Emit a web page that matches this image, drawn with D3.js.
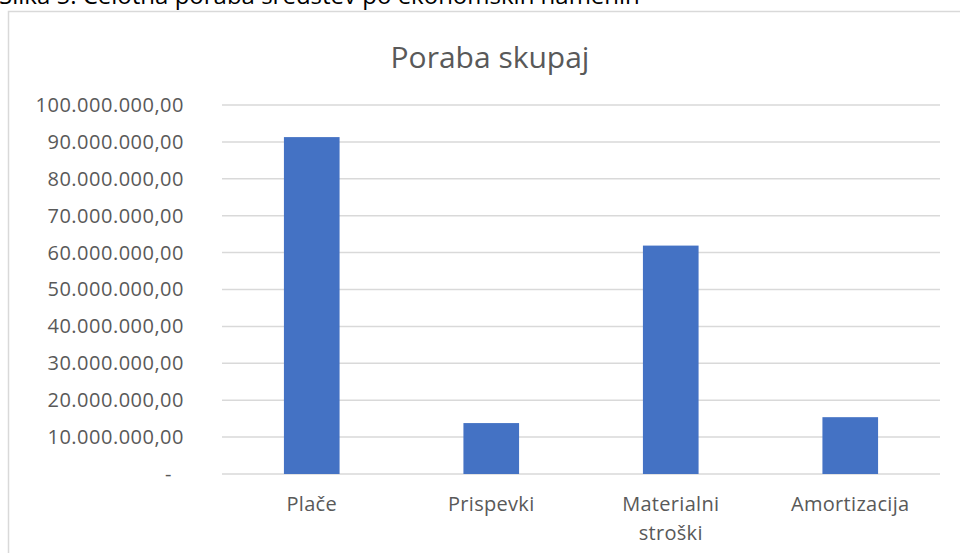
<!DOCTYPE html>
<html>
<head>
<meta charset="utf-8">
<script src="https://cdn.jsdelivr.net/npm/d3@7"></script>
<style>
  body { margin: 0; background: #fff; }
  svg { display: block; font-family: "Open Sans", "Noto Sans", sans-serif; }
</style>
</head>
<body>
<svg id="chart"></svg>
<script>
const categories = ["Plače", "Prispevki", "Materialni stroški", "Amortizacija"];
const values = [91300000, 13800000, 61900000, 15400000];
const yTicks = [0, 10000000, 20000000, 30000000, 40000000, 50000000, 60000000, 70000000, 80000000, 90000000, 100000000];

const width = 960, height = 553;
const margin = { top: 105, right: 20, bottom: 79, left: 222 };

const svg = d3.select("#chart")
  .attr("width", width)
  .attr("height", height);

// caption above the chart box, cut off at the top
svg.append("text")
  .attr("x", -1)
  .attr("y", 4)
  .attr("font-size", 24)
  .attr("fill", "#000")
  .text("Slika 5: Celotna poraba sredstev po ekonomskih namenih");

// chart box
svg.append("rect")
  .attr("x", 8.5)
  .attr("y", 11.5)
  .attr("width", 980)
  .attr("height", 600)
  .attr("fill", "#fff")
  .attr("stroke", "#d9d9d9")
  .attr("stroke-width", 1.5);

svg.append("text")
  .attr("x", 490)
  .attr("y", 68)
  .attr("text-anchor", "middle")
  .attr("font-size", 30)
  .attr("fill", "#595959")
  .text("Poraba skupaj");

const x = d3.scaleBand()
  .domain(categories)
  .range([margin.left, width - margin.right])
  .paddingInner(0.69)
  .paddingOuter(0.345);

const y = d3.scaleLinear()
  .domain([0, 100000000])
  .range([height - margin.bottom, margin.top]);

const fmt = v => v === 0 ? "-" :
  d3.format(",.2f")(v).replace(/,/g, "#").replace(/\./g, ",").replace(/#/g, ".");

// gridlines
svg.append("g")
  .selectAll("line")
  .data(yTicks)
  .join("line")
  .attr("x1", margin.left)
  .attr("x2", width - margin.right)
  .attr("y1", d => y(d))
  .attr("y2", d => y(d))
  .attr("stroke", "#d9d9d9")
  .attr("stroke-width", 1.5);

// y axis labels
const yAxis = svg.append("g")
  .attr("transform", `translate(${margin.left - 38},0)`)
  .call(d3.axisLeft(y).tickValues(yTicks).tickFormat(fmt).tickSize(0).tickPadding(0));
yAxis.select(".domain").remove();
yAxis.selectAll("text")
  .attr("font-size", 20)
  .attr("letter-spacing", 0.5)
  .attr("font-family", "Open Sans, sans-serif")
  .attr("fill", "#595959");
yAxis.selectAll(".tick").filter(d => d === 0).select("text").attr("dx", -12);

// bars
svg.append("g")
  .selectAll("rect")
  .data(values)
  .join("rect")
  .attr("x", (d, i) => x(categories[i]))
  .attr("y", d => y(d))
  .attr("width", x.bandwidth())
  .attr("height", d => y(0) - y(d))
  .attr("fill", "#4472c4");

// x labels (wrapped)
const xl = svg.append("g")
  .selectAll("text")
  .data(categories)
  .join("text")
  .attr("x", d => x(d) + x.bandwidth() / 2)
  .attr("y", 511)
  .attr("text-anchor", "middle")
  .attr("font-size", 20)
  .attr("letter-spacing", 0.3)
  .attr("fill", "#595959");
xl.each(function(d) {
  const words = d === "Materialni stroški" ? ["Materialni", "stroški"] : [d];
  d3.select(this).selectAll("tspan")
    .data(words)
    .join("tspan")
    .attr("x", x(d) + x.bandwidth() / 2)
    .attr("dy", (w, i) => i === 0 ? 0 : 29)
    .text(w => w);
});
</script>
</body>
</html>
